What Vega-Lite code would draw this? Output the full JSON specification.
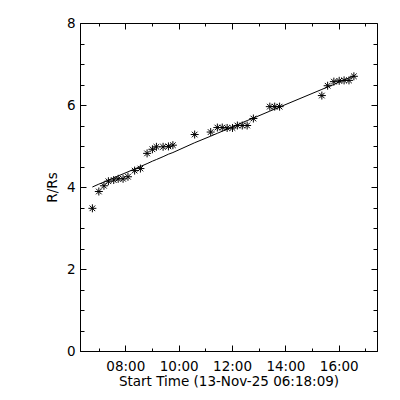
{
  "$schema": "https://vega.github.io/schema/vega-lite/v6.json",
  "autosize": {"type": "none"},
  "padding": {"left": 80, "top": 23, "right": 23, "bottom": 49},
  "width": 297,
  "height": 328,
  "background": "white",
  "config": {"view": {"stroke": "black", "strokeWidth": 1}},
  "data": {"values": [
    {"time": "2025-11-13T06:46:00", "r": 3.48, "fit": 4.00},
    {"time": "2025-11-13T07:00:30", "r": 3.89, "fit": 4.07},
    {"time": "2025-11-13T07:12:00", "r": 4.03, "fit": 4.12},
    {"time": "2025-11-13T07:22:00", "r": 4.14, "fit": 4.17},
    {"time": "2025-11-13T07:34:00", "r": 4.17, "fit": 4.22},
    {"time": "2025-11-13T07:44:00", "r": 4.20, "fit": 4.27},
    {"time": "2025-11-13T07:55:00", "r": 4.20, "fit": 4.32},
    {"time": "2025-11-13T08:06:00", "r": 4.25, "fit": 4.37},
    {"time": "2025-11-13T08:21:00", "r": 4.40, "fit": 4.44},
    {"time": "2025-11-13T08:34:00", "r": 4.45, "fit": 4.50},
    {"time": "2025-11-13T08:49:00", "r": 4.82, "fit": 4.57},
    {"time": "2025-11-13T09:01:00", "r": 4.92, "fit": 4.63},
    {"time": "2025-11-13T09:10:00", "r": 4.98, "fit": 4.67},
    {"time": "2025-11-13T09:25:00", "r": 4.98, "fit": 4.74},
    {"time": "2025-11-13T09:37:00", "r": 4.99, "fit": 4.80},
    {"time": "2025-11-13T09:47:00", "r": 5.02, "fit": 4.84},
    {"time": "2025-11-13T10:36:00", "r": 5.28, "fit": 5.08},
    {"time": "2025-11-13T11:12:00", "r": 5.34, "fit": 5.24},
    {"time": "2025-11-13T11:27:00", "r": 5.45, "fit": 5.31},
    {"time": "2025-11-13T11:38:00", "r": 5.45, "fit": 5.36},
    {"time": "2025-11-13T11:49:00", "r": 5.44, "fit": 5.41},
    {"time": "2025-11-13T12:01:00", "r": 5.44, "fit": 5.46},
    {"time": "2025-11-13T12:12:00", "r": 5.50, "fit": 5.51},
    {"time": "2025-11-13T12:23:00", "r": 5.50, "fit": 5.57},
    {"time": "2025-11-13T12:34:00", "r": 5.50, "fit": 5.62},
    {"time": "2025-11-13T12:48:00", "r": 5.67, "fit": 5.68},
    {"time": "2025-11-13T13:25:00", "r": 5.96, "fit": 5.85},
    {"time": "2025-11-13T13:36:00", "r": 5.96, "fit": 5.90},
    {"time": "2025-11-13T13:47:00", "r": 5.96, "fit": 5.95},
    {"time": "2025-11-13T15:22:00", "r": 6.23, "fit": 6.38},
    {"time": "2025-11-13T15:35:00", "r": 6.47, "fit": 6.44},
    {"time": "2025-11-13T15:49:00", "r": 6.57, "fit": 6.50},
    {"time": "2025-11-13T16:01:00", "r": 6.59, "fit": 6.56},
    {"time": "2025-11-13T16:12:00", "r": 6.60, "fit": 6.61},
    {"time": "2025-11-13T16:23:00", "r": 6.60, "fit": 6.66},
    {"time": "2025-11-13T16:34:00", "r": 6.70, "fit": 6.71}
  ]},
  "encoding": {
    "x": {"field": "time", "type": "temporal",
      "scale": {"domain": [{"year": 2025, "month": 11, "date": 13, "hours": 6, "minutes": 18, "seconds": 9}, {"year": 2025, "month": 11, "date": 13, "hours": 17, "minutes": 26}], "nice": false},
      "axis": {"orient": "bottom", "title": "Start Time (13-Nov-25 06:18:09)",
        "values": [
          {"year": 2025, "month": 11, "date": 13, "hours": 7},
          {"year": 2025, "month": 11, "date": 13, "hours": 8},
          {"year": 2025, "month": 11, "date": 13, "hours": 9},
          {"year": 2025, "month": 11, "date": 13, "hours": 10},
          {"year": 2025, "month": 11, "date": 13, "hours": 11},
          {"year": 2025, "month": 11, "date": 13, "hours": 12},
          {"year": 2025, "month": 11, "date": 13, "hours": 13},
          {"year": 2025, "month": 11, "date": 13, "hours": 14},
          {"year": 2025, "month": 11, "date": 13, "hours": 15},
          {"year": 2025, "month": 11, "date": 13, "hours": 16},
          {"year": 2025, "month": 11, "date": 13, "hours": 17}
        ],
        "labelExpr": "hours(datum.value) % 2 == 0 ? timeFormat(datum.value, '%H:%M') : ''",
        "ticks": false, "tickSize": 0,
        "grid": true, "gridColor": "black", "gridOpacity": 1, "gridWidth": 1,
        "gridDash": {"condition": {"test": "hours(datum.value) % 2 == 0", "value": [6, 316, 6]}, "value": [3, 322, 3]},
        "domainColor": "black", "labelColor": "black", "titleColor": "black",
        "labelFont": "DejaVu Sans", "titleFont": "DejaVu Sans", "labelFontSize": 13.5, "titleFontSize": 13.5, "titleFontWeight": "normal",
        "labelOverlap": false, "labelFlush": false,
        "labelPadding": 8, "titlePadding": 2}}
  },
  "layer": [
    {
      "mark": {"type": "line", "color": "black", "strokeWidth": 1},
      "encoding": {
        "y": {"field": "fit", "type": "quantitative",
          "scale": {"domain": [0, 8], "nice": false},
          "axis": {"orient": "left", "title": "R/Rs",
            "values": [0, 0.5, 1, 1.5, 2, 2.5, 3, 3.5, 4, 4.5, 5, 5.5, 6, 6.5, 7, 7.5, 8],
            "labelExpr": "datum.value % 2 == 0 ? format(datum.value, 'd') : ''",
            "ticks": false, "tickSize": 0,
            "grid": true, "gridColor": "black", "gridOpacity": 1, "gridWidth": 1,
            "gridDash": {"condition": {"test": "datum.value % 2 == 0", "value": [6, 285, 6]}, "value": [4, 289, 4]},
            "domainColor": "black", "labelColor": "black", "titleColor": "black",
            "labelFont": "DejaVu Sans", "titleFont": "DejaVu Sans", "labelFontSize": 13.5, "titleFontSize": 13.5, "titleFontWeight": "normal",
            "labelOverlap": false, "labelFlush": false,
            "labelPadding": 5, "titlePadding": 7}}
      }
    },
    {
      "mark": {"type": "point", "shape": "M0,-1L0,1M-1,0L1,0M-0.7,-0.7L0.7,0.7M-0.7,0.7L0.7,-0.7", "filled": false, "stroke": "black", "strokeWidth": 1, "size": 64, "opacity": 1},
      "encoding": {
        "y": {"field": "r", "type": "quantitative",
          "scale": {"domain": [0, 8], "nice": false},
          "axis": {"orient": "left", "title": "R/Rs",
            "values": [0, 0.5, 1, 1.5, 2, 2.5, 3, 3.5, 4, 4.5, 5, 5.5, 6, 6.5, 7, 7.5, 8],
            "labelExpr": "datum.value % 2 == 0 ? format(datum.value, 'd') : ''",
            "ticks": false, "tickSize": 0,
            "grid": true, "gridColor": "black", "gridOpacity": 1, "gridWidth": 1,
            "gridDash": {"condition": {"test": "datum.value % 2 == 0", "value": [6, 285, 6]}, "value": [4, 289, 4]},
            "domainColor": "black", "labelColor": "black", "titleColor": "black",
            "labelFont": "DejaVu Sans", "titleFont": "DejaVu Sans", "labelFontSize": 13.5, "titleFontSize": 13.5, "titleFontWeight": "normal",
            "labelOverlap": false, "labelFlush": false,
            "labelPadding": 5, "titlePadding": 7}}
      }
    }
  ]
}
